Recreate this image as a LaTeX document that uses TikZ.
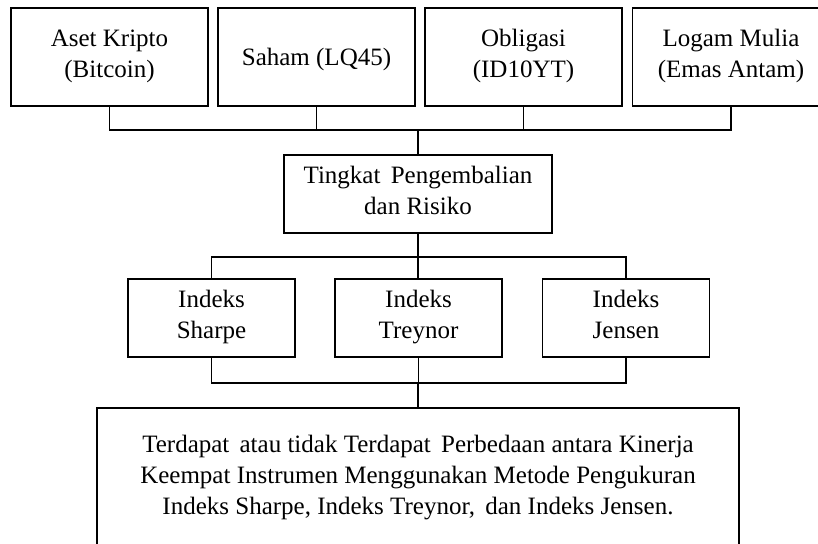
\documentclass[tikz,border=0pt]{standalone}
\usepackage{fontspec}
\setmainfont{Liberation Serif}
\newcommand{\lnstrut}{\rule[-7pt]{0pt}{31pt}}
\newcommand{\wsp}{\hspace{4pt}}
\begin{document}
\begin{tikzpicture}[x=1pt,y=-1pt,
  box/.style={draw=black, line width=1.6pt, align=center, inner sep=0pt,
    font=\fontsize{25}{31}\selectfont,
    execute at begin node=\lnstrut, execute at end node=\lnstrut},
  topbox/.style={box, minimum width=197pt, minimum height=98pt},
  midbox/.style={box, minimum width=167pt, minimum height=78pt},
  link/.style={draw=black, line width=1.6pt}]
\useasboundingbox (0,0) rectangle (818,543);
\begin{scope}
\clip (0,0) rectangle (818,543);
\node[topbox] (a1) at (109.5,57) {Aset Kripto\\(Bitcoin)};
\node[topbox] (a2) at (316.5,57) {Saham (LQ45)};
\node[topbox] (a3) at (523.5,57) {Obligasi\\(ID10YT)};
\node[topbox] (a4) at (731,57) {Logam Mulia\\(Emas Antam)};
\node[box, minimum width=268pt, minimum height=78pt] (t) at (418,194) {Tingkat \wsp Pengembalian\\dan Risiko};
\node[midbox] (s1) at (211.5,318) {Indeks\\Sharpe};
\node[midbox] (s2) at (418.5,318) {Indeks\\Treynor};
\node[midbox] (s3) at (626,318) {Indeks\\Jensen};
\node[box, minimum width=642pt, minimum height=140pt] (r) at (418,478)
  {Terdapat \wsp atau tidak Terdapat \wsp Perbedaan antara Kinerja\\Keempat Instrumen Menggunakan Metode Pengukuran\\Indeks Sharpe, Indeks Treynor, \wsp dan Indeks Jensen.};
\coordinate (j1) at (418,130);
\coordinate (j2) at (418,257);
\coordinate (j3) at (418,383);
\draw[link] (a1.south) -- (a1.south |- j1) -- (a4.south |- j1) -- (a4.south);
\draw[link] (a2.south) -- (a2.south |- j1);
\draw[link] (a3.south) -- (a3.south |- j1);
\draw[link] (j1) -- (t.north);
\draw[link] (t.south) -- (j2);
\draw[link] (s1.north) -- (s1.north |- j2) -- (s3.north |- j2) -- (s3.north);
\draw[link] (j2) -- (j2 |- s2.north);
\draw[link] (s1.south) -- (s1.south |- j3) -- (s3.south |- j3) -- (s3.south);
\draw[link] (s2.south) -- (s2.south |- j3);
\draw[link] (j3) -- (j3 |- r.north);
\end{scope}
\end{tikzpicture}
\end{document}
